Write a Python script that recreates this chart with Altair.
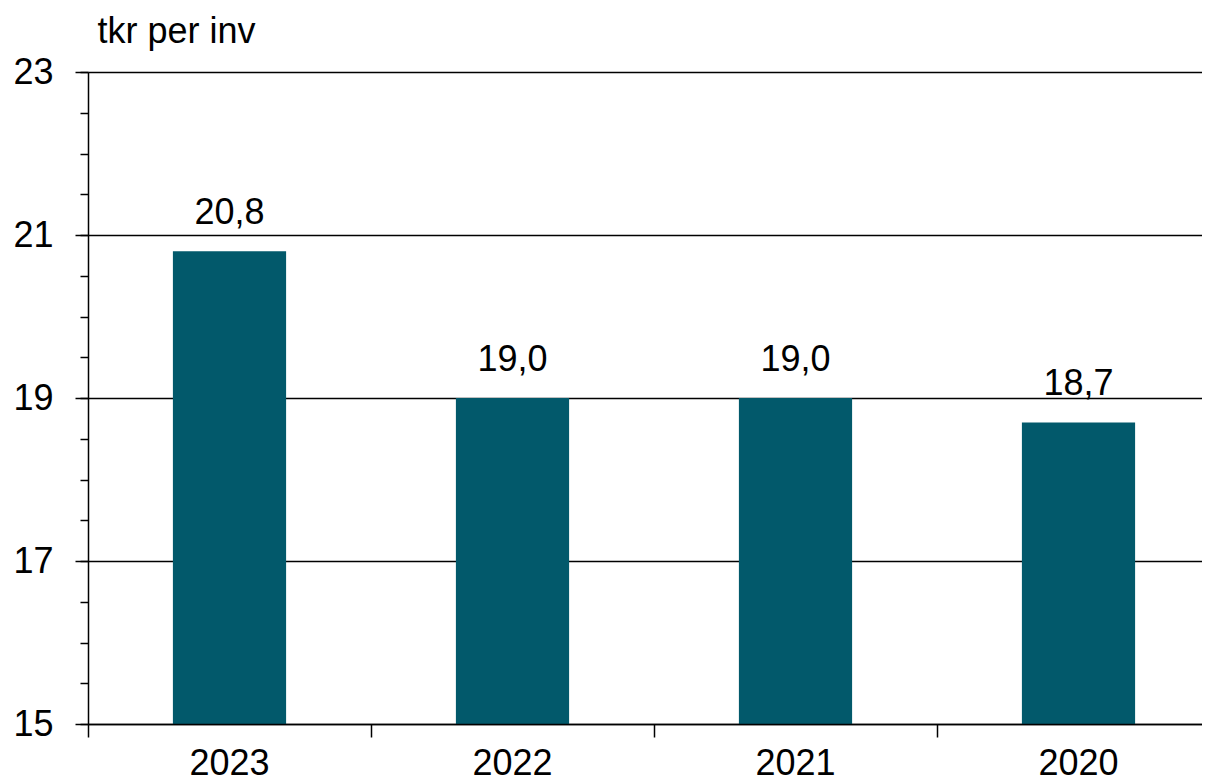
import altair as alt
import pandas as pd

years = ["2023", "2022", "2021", "2020"]
values = [20.8, 19.0, 19.0, 18.7]
y_major = [15, 17, 19, 21, 23]
y_minor = [15, 15.5, 16, 16.5, 17, 17.5, 18, 18.5, 19, 19.5, 20, 20.5,
           21, 21.5, 22, 22.5, 23]

FONT = "Liberation Sans"
BAR = "#02596B"
LW = 1.5

df = pd.DataFrame({"year": years, "value": values})

x_enc = alt.X(
    "year:N",
    sort=years,
    scale=alt.Scale(paddingInner=0, paddingOuter=0),
    axis=alt.Axis(
        title=None, bandPosition=0, tickSize=13, tickColor="black", tickWidth=LW,
        domainColor="black", domainWidth=LW, labelFontSize=36, labelFont=FONT,
        labelColor="black", labelPadding=9, labelAngle=0, grid=False, zindex=1,
    ),
)

y_scale = alt.Scale(domain=[15, 23], nice=False, zero=False)

bars = alt.Chart(df).mark_bar(
    color=BAR, width=alt.RelativeBandSize(0.4)
).encode(
    x=x_enc,
    y=alt.Y(
        "value:Q", scale=y_scale,
        axis=alt.Axis(
            values=y_minor, tickSize=8, labels=False, grid=False, domain=True,
            domainColor="black", domainWidth=LW, tickColor="black", tickWidth=LW,
            title=None, orient="left", zindex=1,
        ),
    ),
    y2=alt.datum(15),
)

text = alt.Chart(df).transform_calculate(
    label="replace(format(datum.value, '.1f'), '.', ',')"
).mark_text(
    dy=-27, baseline="alphabetic", fontSize=36, font=FONT, color="black"
).encode(
    x=x_enc,
    y=alt.Y(
        "value:Q", scale=y_scale,
        axis=alt.Axis(
            values=y_major, tickSize=13, tickColor="black", tickWidth=LW,
            grid=True, gridColor="black", gridWidth=LW, gridOpacity=1,
            labelFontSize=36, labelFont=FONT, labelColor="black", labelPadding=22,
            domain=False, orient="left",
            title="tkr per inv", titleAngle=0, titleX=9, titleY=-30,
            titleAlign="left", titleBaseline="alphabetic", titleFontSize=36,
            titleFont=FONT, titleFontWeight="normal", titleColor="black",
        ),
    ),
    text="label:N",
)

chart = alt.layer(bars, text).resolve_axis(y="independent").properties(
    width=1132,
    height=652,
    autosize=alt.AutoSizeParams(type="none"),
    padding={"left": 80, "top": 64, "right": -18, "bottom": 59},
).configure_view(stroke=None)

chart.save("out.html", embed_options={"renderer": "svg", "actions": False})
